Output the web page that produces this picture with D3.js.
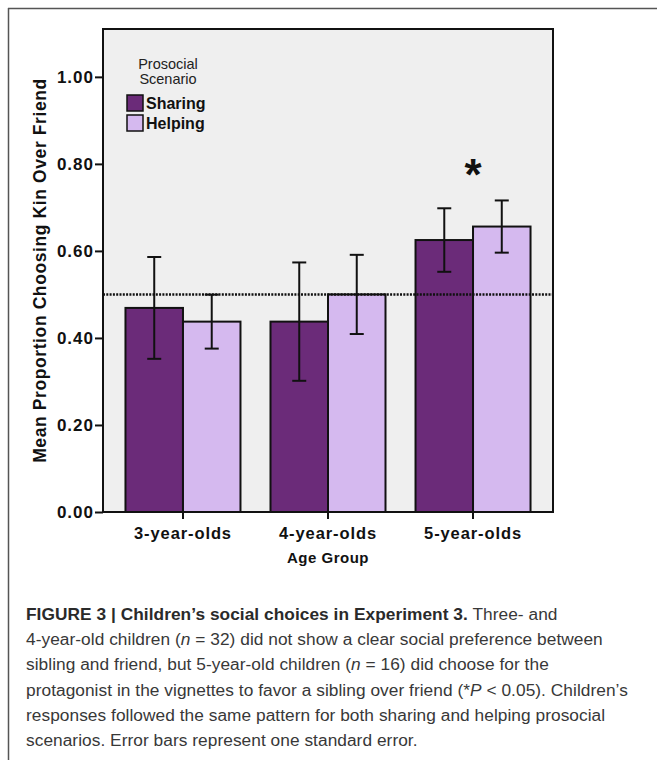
<!DOCTYPE html>
<html>
<head>
<meta charset="utf-8">
<script src="https://cdn.jsdelivr.net/npm/d3@7"></script>
<style>
 body { margin: 0; background: #fff; }
 svg text { font-family: "Liberation Sans", Arial, sans-serif; }
</style>
</head>
<body>
<div id="chart"></div>
<script>
// Chart data
var groups = ["3-year-olds", "4-year-olds", "5-year-olds"];
var scenarios = ["Sharing", "Helping"];
var sharingMean = [0.469, 0.4375, 0.625];
var helpingMean = [0.4375, 0.50, 0.656];
var sharingSE = [0.117, 0.136, 0.073];
var helpingSE = [0.062, 0.091, 0.060];
var yTicks = [0, 0.2, 0.4, 0.6, 0.8, 1.0];
var chanceLevel = 0.5;

var captionLines = [
 [["b", "FIGURE 3 | Children\u2019s social choices in Experiment 3."], ["n", " Three- and"]],
 [["n", "4-year-old children ("], ["i", "n"], ["n", " = 32) did not show a clear social preference between"]],
 [["n", "sibling and friend, but 5-year-old children ("], ["i", "n"], ["n", " = 16) did choose for the"]],
 [["n", "protagonist in the vignettes to favor a sibling over friend (*"], ["i", "P"], ["n", " < 0.05). Children\u2019s"]],
 [["n", "responses followed the same pattern for both sharing and helping prosocial"]],
 [["n", "scenarios. Error bars represent one standard error."]]
];

var colors = { "Sharing": "#6b2b79", "Helping": "#d5b9ef" };

var W = 657, H = 760;
var plot = { left: 103, top: 29, right: 553, bottom: 512 };

var svg = d3.select("#chart").append("svg")
    .attr("width", W)
    .attr("height", H);

// outer frame (top and left rule)
svg.append("line")
    .attr("x1", 8).attr("x2", W).attr("y1", 8.5).attr("y2", 8.5)
    .style("stroke", "#555").style("stroke-width", 1.5);
svg.append("line")
    .attr("x1", 8.5).attr("x2", 8.5).attr("y1", 8).attr("y2", H)
    .style("stroke", "#555").style("stroke-width", 1.5);

var y = d3.scaleLinear()
    .domain([0, 1.11])
    .range([plot.bottom, plot.top]);

var x0 = d3.scaleBand()
    .domain(groups)
    .range([plot.left, plot.right])
    .paddingInner(0.207)
    .paddingOuter(0.155);

var x1 = d3.scaleBand()
    .domain(scenarios)
    .range([0, x0.bandwidth()]);

// plot background
svg.append("rect")
    .attr("x", plot.left)
    .attr("y", plot.top)
    .attr("width", plot.right - plot.left)
    .attr("height", plot.bottom - plot.top)
    .style("fill", "#efefef");

var rows = groups.map(function(g, i) {
    return [
        { group: g, key: "Sharing", mean: sharingMean[i], se: sharingSE[i] },
        { group: g, key: "Helping", mean: helpingMean[i], se: helpingSE[i] }
    ];
});
var flat = [].concat.apply([], rows);

// bars
svg.selectAll("rect.bar")
    .data(flat)
  .enter().append("rect")
    .attr("class", "bar")
    .attr("x", function(d) { return x0(d.group) + x1(d.key); })
    .attr("y", function(d) { return y(d.mean); })
    .attr("width", x1.bandwidth())
    .attr("height", function(d) { return y(0) - y(d.mean); })
    .style("fill", function(d) { return colors[d.key]; })
    .style("stroke", "#111")
    .style("stroke-width", 2);

// chance line
svg.append("line")
    .attr("x1", plot.left)
    .attr("x2", plot.right)
    .attr("y1", y(chanceLevel))
    .attr("y2", y(chanceLevel))
    .style("stroke", "#111")
    .style("stroke-width", 2.5)
    .style("stroke-dasharray", "2,1.3");

// error bars
var cap = 7;
flat.forEach(function(d) {
    var cx = x0(d.group) + x1(d.key) + x1.bandwidth() / 2;
    var g = svg.append("g").style("stroke", "#111").style("stroke-width", 2);
    g.append("line").attr("x1", cx).attr("x2", cx)
        .attr("y1", y(d.mean + d.se)).attr("y2", y(d.mean - d.se));
    g.append("line").attr("x1", cx - cap).attr("x2", cx + cap)
        .attr("y1", y(d.mean + d.se)).attr("y2", y(d.mean + d.se));
    g.append("line").attr("x1", cx - cap).attr("x2", cx + cap)
        .attr("y1", y(d.mean - d.se)).attr("y2", y(d.mean - d.se));
});

// plot frame
svg.append("rect")
    .attr("x", plot.left)
    .attr("y", plot.top)
    .attr("width", plot.right - plot.left)
    .attr("height", plot.bottom - plot.top)
    .style("fill", "none")
    .style("stroke", "#111")
    .style("stroke-width", 2);

// y axis
var yAxis = svg.append("g")
    .attr("transform", "translate(" + plot.left + ",0)")
    .call(d3.axisLeft(y).tickValues(yTicks).tickFormat(d3.format(".2f")).tickSize(8).tickPadding(1));
yAxis.select(".domain").remove();
yAxis.selectAll("line").style("stroke", "#111").style("stroke-width", 2);
yAxis.selectAll("text")
    .style("font-size", "17px")
    .style("font-weight", "bold")
    .style("letter-spacing", "1px")
    .style("fill", "#111");

// x axis
var xAxis = svg.append("g")
    .attr("transform", "translate(0," + plot.bottom + ")")
    .call(d3.axisBottom(x0).tickSize(7).tickPadding(8));
xAxis.select(".domain").remove();
xAxis.selectAll("line").style("stroke", "#111").style("stroke-width", 2);
xAxis.selectAll("text")
    .style("font-size", "16.5px")
    .style("font-weight", "bold")
    .style("letter-spacing", "0.9px")
    .style("fill", "#111");

// axis titles
svg.append("text")
    .attr("transform", "translate(46," + ((plot.top + plot.bottom) / 2) + ") rotate(-90)")
    .attr("text-anchor", "middle")
    .style("font-size", "17.5px")
    .style("font-weight", "bold")
    .style("letter-spacing", "0.6px")
    .style("fill", "#111")
    .text("Mean Proportion Choosing Kin Over Friend");

svg.append("text")
    .attr("x", x0("4-year-olds") + x0.bandwidth() / 2)
    .attr("y", 563)
    .attr("text-anchor", "middle")
    .style("font-size", "15px")
    .style("font-weight", "bold")
    .style("letter-spacing", "0.5px")
    .style("fill", "#111")
    .text("Age Group");

// significance star
svg.append("text")
    .attr("x", x0("5-year-olds") + x0.bandwidth() / 2)
    .attr("y", 190)
    .attr("text-anchor", "middle")
    .style("font-size", "44px")
    .style("font-weight", "bold")
    .style("fill", "#111")
    .text("*");

// legend
var legend = svg.append("g");
legend.append("text").attr("x", 168).attr("y", 69).attr("text-anchor", "middle")
    .style("font-size", "14.5px").style("fill", "#222").text("Prosocial");
legend.append("text").attr("x", 168).attr("y", 84).attr("text-anchor", "middle")
    .style("font-size", "14.5px").style("fill", "#222").text("Scenario");
scenarios.forEach(function(s, i) {
    legend.append("rect")
        .attr("x", 127).attr("y", 95 + i * 20)
        .attr("width", 16).attr("height", 16)
        .style("fill", colors[s]).style("stroke", "#111").style("stroke-width", 1.5);
    legend.append("text")
        .attr("x", 146).attr("y", 109 + i * 20)
        .style("font-size", "16px").style("font-weight", "bold").style("fill", "#111")
        .text(s);
});

// caption
var cap0 = 620, capStep = 25.2;
captionLines.forEach(function(line, i) {
    var t = svg.append("text")
        .attr("x", 26)
        .attr("y", cap0 + i * capStep)
        .style("font-size", "17.3px")
        .style("letter-spacing", "0.05px")
        .style("fill", "#383838");
    line.forEach(function(seg) {
        var ts = t.append("tspan").text(seg[1]);
        if (seg[0] === "b") ts.style("font-weight", "bold").style("fill", "#2a2a2a");
        if (seg[0] === "i") ts.style("font-style", "italic");
    });
});
</script>
</body>
</html>
